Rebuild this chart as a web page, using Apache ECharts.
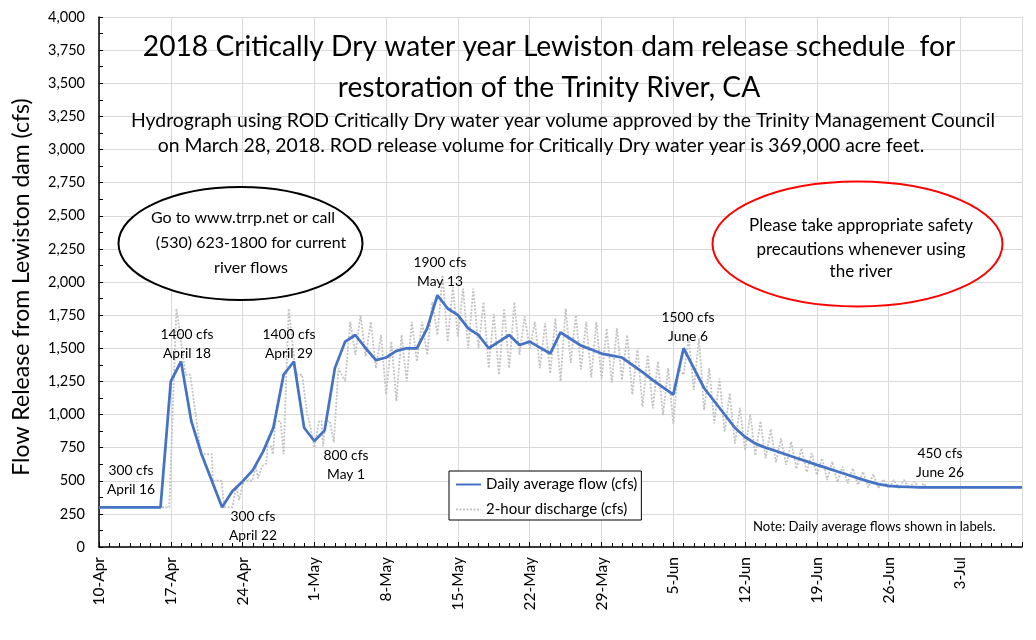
<!DOCTYPE html>
<html><head><meta charset="utf-8">
<script src="https://cdn.jsdelivr.net/npm/echarts@6/dist/echarts.min.js"></script>
<style>html,body{margin:0;padding:0;background:#fff}#c{width:1036px;height:640px}</style>
</head><body><div id="c"></div>
<script>
// x tick labels (one every 7 days starting 10-Apr)
const xTickLabels = ['10-Apr','17-Apr','24-Apr','1-May','8-May','15-May','22-May','29-May','5-Jun','12-Jun','19-Jun','26-Jun','3-Jul'];
// daily average flow (cfs), one value per day from 10-Apr to 9-Jul
const dailyFlow = [
  300,300,300,300,300,300,300,1250,1400,950,
  700,500,300,420,495,580,720,900,1300,1400,
  900,800,880,1350,1550,1600,1500,1410,1430,1480,
  1500,1500,1650,1900,1800,1750,1650,1600,1500,1550,
  1600,1525,1550,1505,1460,1620,1570,1520,1490,1460,
  1445,1430,1375,1320,1260,1205,1150,1500,1350,1200,
  1100,1000,900,830,780,750,725,698,672,646,
  620,595,570,545,520,495,475,462,456,453,
  450,450,450,450,450,450,450,450,450,450,450
];
// 2-hour discharge, read as turning points: day offset from 10-Apr and flow (cfs)
const greyDay = [
  0,6.85,7.55,7.65,8.45,8.9,9.95,11.0,11.1,11.95,12.2,13.0,13.4,13.65,14.1,14.95,15.3,15.5,15.9,16.3,16.45,16.8,16.95,17.2,17.7,18.0,18.5,18.6,19.2,19.8,20.3,20.5,21.0,21.45,21.7,21.85,22.1,22.5,22.9,23.35,
  24,24.5,25,25.5,26,26.5,27,27.5,28,28.5,29,29.5,30,30.5,31,31.5,32,32.5,33,33.5,34,34.5,35,35.5,36,36.5,37,37.5,38,38.5,39,39.5,
  40,40.5,41,41.5,42,42.5,43,43.5,44,44.5,45,45.5,46,46.5,47,47.5,48,48.5,49,49.5,50,50.5,51,51.5,52,52.5,53,53.5,54,54.5,55,55.5,
  56,56.5,57,57.5,58,58.5,59,59.5,60,60.5,61,61.5,62,62.5,63,63.5,64,64.5,65,65.5,66,66.5,67,67.5,68,68.5,69,69.5,
  70,70.5,71,71.5,72,72.5,73,73.5,74,74.5,75,75.5,76,76.5,77,77.5,78,78.5,79,79.5,80,80.4,80.7
];
const greyFlow = [
  300,300,1800,1800,1300,1300,700,700,500,500,300,300,460,355,500,500,610,520,610,630,760,760,700,950,950,700,1800,1800,1300,1300,1000,950,750,950,950,760,950,950,790,1350,
  1250,1700,1450,1750,1436,1700,1350,1600,1150,1550,1100,1600,1250,1700,1400,1700,1450,1850,1600,2050,1550,1960,1590,1950,1500,1950,1500,1850,1350,1760,1300,1800,
  1350,1850,1450,1740,1500,1700,1350,1690,1310,1725,1250,1800,1390,1750,1340,1700,1280,1700,1270,1650,1240,1650,1260,1600,1150,1500,1060,1450,1046,1400,996,1350,
  930,1350,1300,1575,1185,1575,1034,1348,933,1273,870,1160,780,1050,730,1000,690,950,670,890,640,820,620,795,590,745,565,707,
  543,669,506,644,490,606,481,594,468,568,450,551,443,510,443,506,443,506,443,495,443,480,450
];
const yTickStep = 250;
const seriesNames = ['Daily average flow (cfs)', '2-hour discharge (cfs)'];
const pointLabels = [
  {text:'300 cfs\nApril 16', x:131, y:480},
  {text:'1400 cfs\nApril 18', x:187, y:344},
  {text:'300 cfs\nApril 22', x:253, y:526},
  {text:'1400 cfs\nApril 29', x:289, y:344},
  {text:'800 cfs\nMay 1', x:346, y:465},
  {text:'1900 cfs\nMay 13', x:440, y:272},
  {text:'1500 cfs\nJune 6', x:688, y:327},
  {text:'450 cfs\nJune 26', x:940, y:463}
];

const FONT = 'Lato';
const chart = echarts.init(document.getElementById('c'), null, {renderer:'canvas'});

const graphics = [];
const titleLines = [
  {t:'2018 Critically Dry water year Lewiston dam release schedule  for', x:549, y:47, s:28.2},
  {t:'restoration of the Trinity River, CA', x:549, y:88, s:28.2},
  {t:'Hydrograph using ROD Critically Dry water year volume approved by the Trinity Management Council', x:563, y:121, s:19.4},
  {t:'on March 28, 2018. ROD release volume for Critically Dry water year is 369,000 acre feet.', x:541, y:146, s:19.4}
];
titleLines.forEach(l => graphics.push({type:'text', x:l.x, y:l.y, z:10,
  style:{text:l.t, fill:'#000', font: l.s + 'px ' + FONT, textAlign:'center', textVerticalAlign:'middle'}}));
// ellipses
graphics.push({type:'ellipse', z:8, shape:{cx:240.5, cy:243.5, rx:122, ry:56.5}, style:{fill:'#fff', stroke:'#000', lineWidth:2}});
graphics.push({type:'ellipse', z:8, shape:{cx:857.5, cy:244, rx:145, ry:62.5}, style:{fill:'#fff', stroke:'#ff0000', lineWidth:2}});
[['Go to www.trrp.net or call',243,218],['(530) 623-1800 for current',251,243],['river flows',251,268]].forEach(a =>
  graphics.push({type:'text', x:a[1], y:a[2], z:10, style:{text:a[0], fill:'#000', font:'16px '+FONT, textAlign:'center', textVerticalAlign:'middle'}}));
[['Please take appropriate safety',226],['precautions whenever using',250],['the river',272]].forEach(a =>
  graphics.push({type:'text', x:861, y:a[1], z:10, style:{text:a[0], fill:'#000', font:'17px '+FONT, textAlign:'center', textVerticalAlign:'middle'}}));
// point labels
pointLabels.forEach(p => graphics.push({type:'text', x:p.x, y:p.y, z:10,
  style:{text:p.text, fill:'#000', font:'13.8px '+FONT, lineHeight:19, textAlign:'center', textVerticalAlign:'middle'}}));
// note
graphics.push({type:'text', x:753, y:527, z:10, style:{text:'Note: Daily average flows shown in labels.', fill:'#000', font:'13.2px '+FONT, textAlign:'left', textVerticalAlign:'middle'}});
// y axis title
graphics.push({type:'text', x:22, y:287, rotation:Math.PI/2, z:10,
  style:{text:'Flow Release from Lewiston dam (cfs)', fill:'#000', font:'23px '+FONT, textAlign:'center', textVerticalAlign:'middle'}});

chart.setOption({
  animation:false,
  backgroundColor:'#fff',
  textStyle:{fontFamily:FONT},
  grid:{left:99, right:14, top:17, bottom:93, containLabel:false},
  legend:{
    data:seriesNames, orient:'vertical', left:449, top:471,
    backgroundColor:'#fff', borderColor:'#000', borderWidth:1,
    padding:[6,4,3,6], itemGap:10, itemWidth:25, itemHeight:14,
    itemStyle:{opacity:0},
    textStyle:{fontFamily:FONT, fontSize:15, color:'#000'}, z:9
  },
  xAxis:{
    type:'value', min:0, max:90, interval:7,
    axisLine:{show:true, lineStyle:{color:'#000', width:1.5}},
    axisTick:{show:true, inside:true, length:5, lineStyle:{color:'#000'}},
    minorTick:{show:true, splitNumber:7, length:4, lineStyle:{color:'#000'}},
    splitLine:{show:true, lineStyle:{color:'#d9d9d9', width:1}},
    axisLabel:{rotate:90, fontFamily:FONT, fontSize:15.5, color:'#000', margin:10,
      formatter:v => (v % 7 === 0 && xTickLabels[v/7]) ? xTickLabels[v/7] : ''}
  },
  yAxis:{
    type:'value', min:0, max:4000, interval:yTickStep,
    axisLine:{show:true, lineStyle:{color:'#000', width:1.5}},
    axisTick:{show:true, inside:true, length:4, lineStyle:{color:'#000'}},
    minorTick:{show:true, splitNumber:2, length:4, lineStyle:{color:'#000'}},
    splitLine:{show:true, lineStyle:{color:'#d9d9d9', width:1}},
    axisLabel:{fontFamily:FONT, fontSize:14.5, color:'#000', margin:14,
      formatter:v => v.toLocaleString('en-US')}
  },
  series:[
    {name:seriesNames[0], type:'line', data:dailyFlow.map((v,i)=>[i,v]), showSymbol:false, symbol:'none',
      lineStyle:{color:'#4472C4', width:2.75}, itemStyle:{color:'#4472C4'}, z:4},
    {name:seriesNames[1], type:'line', data:greyDay.map((d,i)=>[d,greyFlow[i]]), showSymbol:false, symbol:'none',
      lineStyle:{color:'#c3c3c3', width:1.8, type:[2,1.5]}, itemStyle:{color:'#c3c3c3'}, z:3}
  ],
  graphic:graphics
});
</script></body></html>
